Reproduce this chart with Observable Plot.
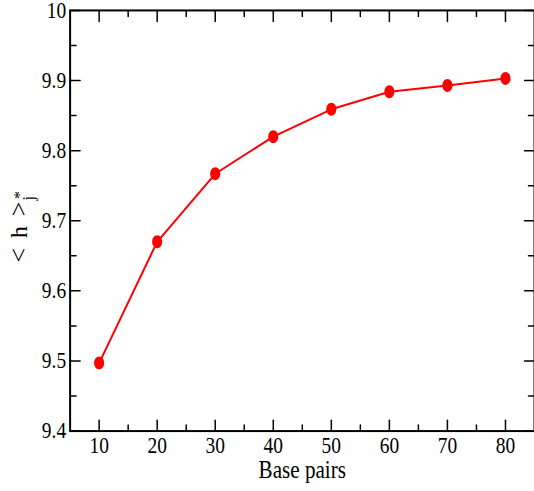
<!DOCTYPE html>
<html>
<head>
<meta charset="utf-8">
<script src="https://cdn.jsdelivr.net/npm/d3@7"></script>
<script src="https://cdn.jsdelivr.net/npm/@observablehq/plot@0.6"></script>
<style>
  html, body { margin: 0; padding: 0; background: #fff; overflow: hidden; }
  #chart { width: 534px; height: 491px; overflow: hidden; }
</style>
</head>
<body>
<div id="chart"></div>
<script>
const basePairs = [10, 20, 30, 40, 50, 60, 70, 80];
const hValues = [9.497, 9.670, 9.767, 9.820, 9.859, 9.884, 9.893, 9.903];

const xMajor = [10, 20, 30, 40, 50, 60, 70, 80];
const xMinor = [15, 25, 35, 45, 55, 65, 75];
const yMajor = [9.4, 9.5, 9.6, 9.7, 9.8, 9.9, 10];
const yMinor = [9.45, 9.55, 9.65, 9.75, 9.85, 9.95];
const xLabels = ["10", "20", "30", "40", "50", "60", "70", "80"];
const yLabels = ["9.4", "9.5", "9.6", "9.7", "9.8", "9.9", "10"];

const data = basePairs.map((b, i) => ({b, h: hValues[i]}));

const serif = "Liberation Serif";
const lineShape = {draw(context, l) { context.moveTo(0, 0); context.lineTo(0, -l); }};
const ellipse = {
  draw(context, size) {
    const r = Math.sqrt(size / Math.PI);
    const rx = r * 0.82, ry = r * 1.05, k = 0.5523;
    context.moveTo(rx, 0);
    context.bezierCurveTo(rx, k * ry, k * rx, ry, 0, ry);
    context.bezierCurveTo(-k * rx, ry, -rx, k * ry, -rx, 0);
    context.bezierCurveTo(-rx, -k * ry, -k * rx, -ry, 0, -ry);
    context.bezierCurveTo(k * rx, -ry, rx, -k * ry, rx, 0);
    context.closePath();
  }
};

function tickMarks(values, axis, len) {
  const sw = 1.5;
  if (axis === "x") {
    return [
      Plot.vector(values, {x: d => d, frameAnchor: "bottom", length: len, rotate: 0, anchor: "start", shape: lineShape, stroke: "black", strokeWidth: sw}),
      Plot.vector(values, {x: d => d, frameAnchor: "top", length: len, rotate: 180, anchor: "start", shape: lineShape, stroke: "black", strokeWidth: sw})
    ];
  }
  return [
    Plot.vector(values, {y: d => d, frameAnchor: "left", length: len, rotate: 90, anchor: "start", shape: lineShape, stroke: "black", strokeWidth: sw}),
    Plot.vector(values, {y: d => d, frameAnchor: "right", length: len, rotate: -90, anchor: "start", shape: lineShape, stroke: "black", strokeWidth: sw})
  ];
}

const plot = Plot.plot({
  width: 537,
  height: 491,
  marginLeft: 70,
  marginRight: 0,
  marginTop: 10,
  marginBottom: 58,
  style: {fontFamily: serif, fontSize: "23px", background: "#fff", color: "black", overflow: "visible"},
  x: {domain: [5, 85]},
  y: {domain: [9.4, 10]},
  marks: [
    Plot.axisX(xMajor, {tickSize: 0, tickPadding: 6, tickFormat: (d, i) => xLabels[i], label: null, fontSize: 23, fontFamily: serif}),
    Plot.axisY(yMajor, {tickSize: 0, tickPadding: 4, tickFormat: (d, i) => yLabels[i], label: null, fontSize: 23, fontFamily: serif}),
    ...tickMarks(xMajor, "x", 11),
    ...tickMarks(xMinor, "x", 6),
    ...tickMarks(yMajor, "y", 10),
    ...tickMarks(yMinor, "y", 6),
    Plot.frame({stroke: "black", strokeWidth: 2}),
    Plot.line(data, {x: "b", y: "h", stroke: "#ff0000", strokeWidth: 2}),
    Plot.dot(data, {x: "b", y: "h", fill: "#ff0000", r: 6.2, symbol: ellipse}),
    Plot.text(["Base pairs"], {frameAnchor: "bottom", dy: 47, lineAnchor: "bottom", fontSize: 25, fontFamily: serif, text: d => d, fill: "black"})
  ]
});

document.getElementById("chart").appendChild(plot);

// Horizontally condense text glyphs like the reference's narrow Times face
d3.select(plot).selectAll("text").each(function() {
  this.setAttribute("font-family", serif);
  this.style.fontFamily = serif;
  const L = this.getComputedTextLength();
  if (L > 0) {
    this.setAttribute("textLength", (L * 0.85).toFixed(2));
    this.setAttribute("lengthAdjust", "spacingAndGlyphs");
  }
});

// Y axis label: < h >_{j*}
const yl = d3.select(plot).append("text")
  .attr("transform", "translate(27,264) rotate(-90)")
  .attr("font-family", serif)
  .style("font-family", serif)
  .attr("fill", "black")
  .attr("text-anchor", "start");
yl.append("tspan").attr("font-size", 26).text("<");
yl.append("tspan").attr("font-size", 24).attr("dx", 10).text("h");
yl.append("tspan").attr("font-size", 26).attr("dx", 10).text(">");
yl.append("tspan").attr("font-size", 16).attr("dx", 1).attr("dy", 7).text("j");
yl.append("tspan").attr("font-size", 16).attr("dx", -3).attr("dy", -9).text("*");
</script>
</body>
</html>
